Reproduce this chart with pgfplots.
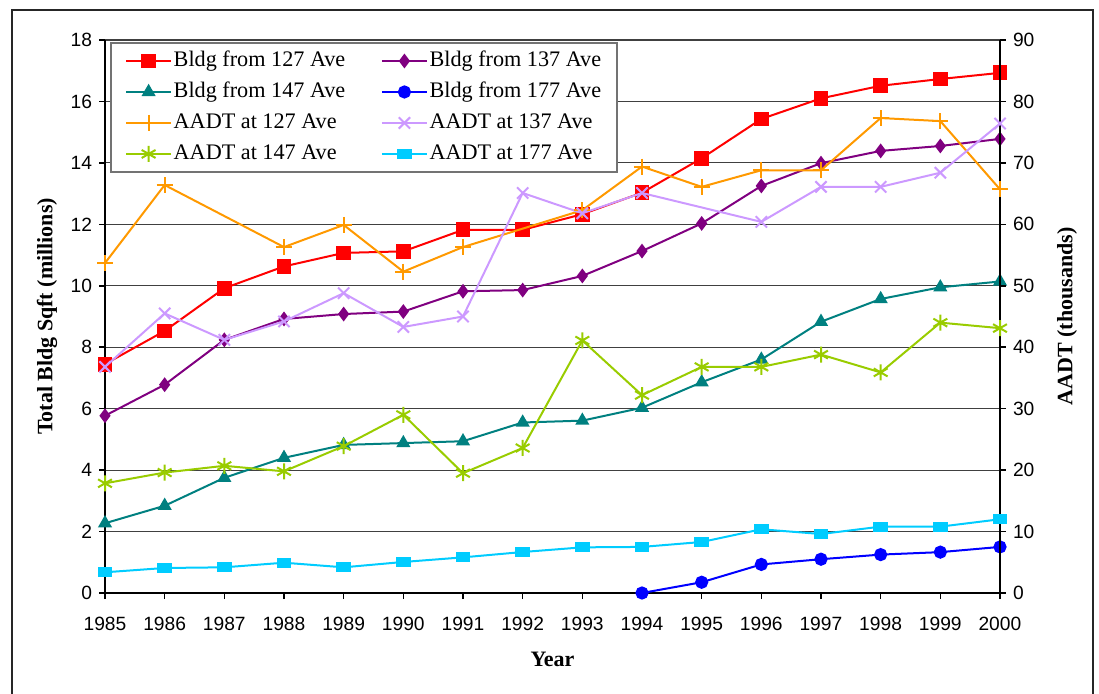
\documentclass[border=0pt]{standalone}
\usepackage{pgfplots}
\pgfplotsset{compat=1.18}
\usepackage{fontspec}
\setmainfont{Liberation Serif}
\newfontfamily\arial{Liberation Sans}
\definecolor{cRed}{HTML}{FF0000}
\definecolor{cPurple}{HTML}{800080}
\definecolor{cTeal}{HTML}{008080}
\definecolor{cBlue}{HTML}{0000FF}
\definecolor{cOrange}{HTML}{FF9900}
\definecolor{cLav}{HTML}{CC99FF}
\definecolor{cGreen}{HTML}{99CC00}
\definecolor{cCyan}{HTML}{00CCFF}
\pgfplotsset{
  sBa/.style={cRed, line width=1bp, mark=square*, mark size=3.2bp, mark options={solid}},
  sBb/.style={cPurple, line width=1bp, mark=diamond*, mark size=2.9bp, mark options={solid}},
  sBc/.style={cTeal, line width=1bp, mark=triangle*, mark size=3.1bp, mark options={solid}},
  sBd/.style={cBlue, line width=1bp, mark=*, mark size=2.8bp, mark options={solid}},
  sAa/.style={cOrange, line width=1bp, mark=+, mark size=4bp, mark options={solid, line width=1bp}},
  sAb/.style={cLav, line width=1bp, mark=x, mark size=4bp, mark options={solid, line width=1bp}},
  sAc/.style={cGreen, line width=1bp, mark=asterisk, mark size=4bp, mark options={solid, line width=1bp}},
  sAd/.style={cCyan, line width=1bp, mark=square*, mark size=2.6bp, mark options={solid, xscale=1.2, yscale=0.75}},
  common/.style={
    scale only axis, width=447.5bp, height=276.5bp,
    at={(52.5bp,50.5bp)}, anchor=south west,
    xmin=1985, xmax=2000, clip=false,
    tick align=outside, major tick length=3bp,
    tick style={black, line width=0.75bp},
    axis line style={black, line width=1bp},
    /pgf/number format/assume math mode=true,
    /pgf/number format/1000 sep={},
    tick label style={font=\arial\fontsize{9.6bp}{11bp}\selectfont},
    label style={font=\bfseries\fontsize{11bp}{13bp}\selectfont},
  },
}
\begin{document}
\begin{tikzpicture}
\useasboundingbox (0,0) rectangle (549.5bp,347bp);
\draw[line width=0.6bp, black!85] (6bp,-2bp) -- (6bp,342bp) -- (546.5bp,342bp) -- (546.5bp,-2bp);
\begin{axis}[common,
  axis x line*=bottom, axis y line*=left,
  ymin=0, ymax=18, ytick={0,2,...,18},
  xtick={1985,...,2000},
  xticklabel style={yshift=-5.5bp},
  ymajorgrids, major grid style={black!75, line width=0.6bp},
  xlabel={Year}, ylabel={Total Bldg Sqft (millions)},
  xlabel style={at={(axis description cs:0.5,-0.1193)}, anchor=center},
  ylabel style={at={(axis description cs:-0.0648,0.5)}, anchor=center},
]
\addplot[sBa] coordinates {(1985,7.45)(1986,8.53)(1987,9.92)(1988,10.63)(1989,11.07)(1990,11.12)(1991,11.82)(1992,11.82)(1993,12.33)(1994,13.03)(1995,14.15)(1996,15.43)(1997,16.1)(1998,16.51)(1999,16.73)(2000,16.93)};
\addplot[sBb] coordinates {(1985,5.77)(1986,6.78)(1987,8.24)(1988,8.92)(1989,9.08)(1990,9.16)(1991,9.82)(1992,9.86)(1993,10.32)(1994,11.13)(1995,12.03)(1996,13.25)(1997,13.99)(1998,14.39)(1999,14.55)(2000,14.78)};
\addplot[sBc] coordinates {(1985,2.27)(1986,2.84)(1987,3.75)(1988,4.4)(1989,4.82)(1990,4.88)(1991,4.94)(1992,5.55)(1993,5.61)(1994,6.03)(1995,6.86)(1996,7.6)(1997,8.83)(1998,9.57)(1999,9.95)(2000,10.14)};
\addplot[sBd] coordinates {(1994,0)(1995,0.35)(1996,0.93)(1997,1.1)(1998,1.25)(1999,1.33)(2000,1.5)};
\end{axis}
\begin{axis}[common,
  axis x line=none, axis y line*=right,
  ymin=0, ymax=90, ytick={0,10,...,90},
  ylabel={AADT (thousands)},
  ylabel style={at={(axis description cs:1.0749,0.5)}, anchor=center},
  legend columns=2,
  legend style={at={(axis description cs:0.006,0.996)}, anchor=north west,
    draw=black!55, line width=0.75bp, fill=white,
    inner xsep=7bp, inner ysep=4bp, row sep=5.5bp,
    font=\fontsize{11.1bp}{12bp}\selectfont,
    nodes={inner xsep=0.8bp, inner ysep=0bp, text height=7.6bp, text depth=2.4bp},
    /tikz/every even column/.append style={column sep=17bp}},
  legend cell align=left,
  legend image code/.code={\draw[mark repeat=2,mark phase=2] plot coordinates {(0bp,0bp)(11.25bp,0bp)(22.5bp,0bp)};},
]
\addlegendimage{sBa}\addlegendentry{Bldg from 127 Ave}
\addlegendimage{sBb}\addlegendentry{Bldg from 137 Ave}
\addlegendimage{sBc}\addlegendentry{Bldg from 147 Ave}
\addlegendimage{sBd}\addlegendentry{Bldg from 177 Ave}
\addplot[sAa] coordinates {(1985,53.7)(1986,66.4)(1988,56.3)(1989,59.9)(1990,52.3)(1991,56.3)(1993,62.3)(1994,69.4)(1995,66.1)(1996,68.8)(1997,68.8)(1998,77.3)(1999,76.8)(2000,65.7)};
\addlegendentry{AADT at 127 Ave}
\addplot[sAb] coordinates {(1985,36.8)(1986,45.5)(1987,41.2)(1988,44.2)(1989,48.8)(1990,43.3)(1991,45.0)(1992,65.1)(1993,61.8)(1994,65.1)(1996,60.4)(1997,66.1)(1998,66.1)(1999,68.4)(2000,76.4)};
\addlegendentry{AADT at 137 Ave}
\addplot[sAc] coordinates {(1985,17.85)(1986,19.6)(1987,20.7)(1988,19.8)(1989,23.9)(1990,29.0)(1991,19.5)(1992,23.6)(1993,41.1)(1994,32.2)(1995,36.8)(1996,36.8)(1997,38.8)(1998,35.9)(1999,44.0)(2000,43.1)};
\addlegendentry{AADT at 147 Ave}
\addplot[sAd] coordinates {(1985,3.37)(1986,4.07)(1987,4.18)(1988,4.93)(1989,4.18)(1990,5.05)(1991,5.8)(1992,6.67)(1993,7.43)(1994,7.5)(1995,8.3)(1996,10.37)(1997,9.6)(1998,10.8)(1999,10.8)(2000,12.0)};
\addlegendentry{AADT at 177 Ave}
\end{axis}
\end{tikzpicture}
\end{document}
